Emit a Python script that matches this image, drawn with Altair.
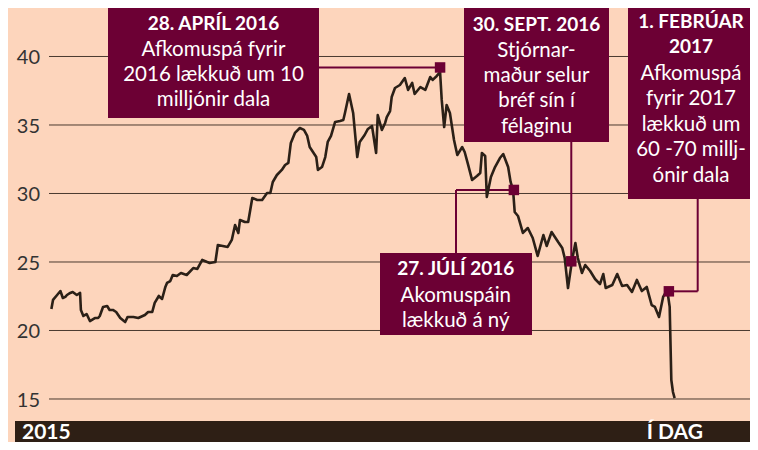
import altair as alt
import pandas as pd

# ---------------- data ----------------
# trading days, as day offsets from 2015-01-01, and share price (USD)
day_offsets = [9, 11, 16, 20, 23, 26, 28, 32, 35, 40,
               44, 45, 48, 52, 56, 62, 66, 68, 72, 77,
               80, 84, 88, 93, 99, 102, 109, 115, 123, 127,
               132, 135, 140, 144, 148, 150, 154, 157, 162, 167,
               174, 182, 187, 193, 199, 202, 209, 212, 218, 224,
               229, 233, 237, 239, 245, 249, 254, 260, 266, 272,
               276, 279, 284, 290, 294, 298, 301, 306, 312, 317,
               321, 324, 328, 332, 334, 339, 343, 346, 350, 355,
               361, 365, 367, 372, 377, 382, 385, 391, 395, 400,
               405, 407, 412, 416, 418, 422, 424, 428, 434, 440,
               444, 449, 452, 459, 465, 471, 474, 479, 483, 485,
               488, 491, 495, 500, 504, 510, 513, 517, 522, 528,
               532, 534, 538, 540, 545, 550, 556, 560, 566, 569,
               572, 574, 578, 584, 590, 596, 602, 609, 613, 619,
               623, 627, 632, 635, 639, 644, 648, 651, 656, 660,
               666, 672, 678, 682, 685, 693, 699, 705, 711, 717,
               723, 729, 735, 741, 745, 750, 755, 760, 763, 765,
               767, 769]
prices = [21.57, 22.23, 22.59, 22.88, 22.37, 22.45, 22.59, 22.74, 22.81, 22.59,
          22.74, 21.50, 21.06, 21.20, 20.69, 20.91, 20.91, 21.06, 21.72, 21.79,
          21.50, 21.50, 21.35, 20.91, 20.62, 20.99, 20.99, 20.91, 21.13, 21.35,
          21.35, 22.01, 22.52, 22.30, 23.18, 23.47, 23.61, 24.05, 23.98, 24.20,
          24.05, 24.56, 24.49, 25.15, 25.00, 24.93, 25.00, 26.24, 26.17, 26.10,
          26.61, 27.70, 27.12, 28.07, 27.92, 27.92, 29.67, 29.53, 29.53, 30.04,
          30.04, 30.84, 31.35, 31.72, 32.08, 32.23, 33.69, 34.42, 34.78, 34.64,
          34.20, 33.39, 33.03, 32.66, 31.72, 31.93, 32.66, 33.76, 34.20, 35.22,
          35.29, 35.37, 35.88, 37.26, 35.88, 32.66, 33.76, 34.27, 34.71, 34.93,
          32.96, 35.73, 34.64, 35.15, 35.58, 36.02, 37.04, 37.70, 37.92, 38.43,
          37.56, 38.07, 37.26, 37.77, 37.56, 38.50, 38.29, 38.58, 38.87, 36.83,
          34.85, 36.46, 35.88, 33.91, 32.81, 33.39, 33.03, 32.15, 30.99, 31.28,
          31.50, 32.96, 32.74, 29.74, 31.20, 31.93, 32.59, 32.88, 31.93, 30.84,
          30.26, 28.65, 28.36, 27.12, 27.48, 26.75, 25.44, 26.97, 26.17, 27.19,
          26.83, 26.46, 26.02, 25.29, 23.10, 25.15, 26.39, 25.29, 24.20, 24.78,
          24.34, 23.76, 23.39, 24.12, 23.10, 23.32, 24.12, 23.25, 23.32, 22.81,
          23.69, 22.88, 23.18, 21.86, 21.72, 20.99, 22.45, 22.96, 21.72, 16.39,
          15.51, 15.07]

y_ticks = [15, 20, 25, 30, 35, 40]

marker_dates = ["2016-04-28", "2016-07-27", "2016-10-05", "2017-02-01"]
marker_values = [39.2, 30.26, 25.05, 22.86]

ann_titles = ["28. APRÍL 2016", "27. JÚLÍ 2016", "30. SEPT. 2016", "1. FEBRÚAR\n2017"]
ann_bodies = ["Afkomuspá fyrir\n2016 lækkuð um 10\nmilljónir dala",
              "Akomuspáin\nlækkuð á ný",
              "Stjórnar-\nmaður selur\nbréf sín í\nfélaginu",
              "Afkomuspá\nfyrir 2017\nlækkuð um\n60 -70 millj-\nónir dala"]

bar_left_label = "2015"
bar_right_label = "Í DAG"

# ---------------- layout / style ----------------
W, H = 742, 434
BASE = pd.Timestamp("2015-01-01")
DAYS_PER_PX = 914.6 / 750
VAL_PER_PX = (43.54 - 11.277) / 442
X0_DAY = -43.9
X1_DAY = X0_DAY + W * DAYS_PER_PX
Y_TOP = 43.54
Y_BOT = Y_TOP - H * VAL_PER_PX

BG = "#fdd5bc"
MAROON = "#6c0034"
DARK = "#2e1f15"
LINE = "#2b2017"
GRID = "#4a3a30"
FONT = "Lato"


def to_dt(day):
    return BASE + pd.Timedelta(days=day)


def day_at(px):
    return X0_DAY + px * DAYS_PER_PX


def val_at(py):
    return Y_TOP - py * VAL_PER_PX


def dt_obj(ts):
    return alt.DateTime(year=ts.year, month=ts.month, date=ts.day,
                        hours=ts.hour, minutes=ts.minute, seconds=ts.second)


xscale = alt.Scale(domain=[dt_obj(to_dt(X0_DAY)), dt_obj(to_dt(X1_DAY))])
yscale = alt.Scale(domain=[Y_BOT, Y_TOP], nice=False, zero=False)

# box geometry in pixels (x, x2, y, y2), title baseline, body baseline
boxes = pd.DataFrame({
    "x":  [100, 372, 456, 620],
    "x2": [311, 524, 601, W + 2],
    "y":  [-2, 245, -2, -2],
    "y2": [110, 327, 134, 191],
    "cx": [205.5, 447.8, 528.5, 683],
    "ty": [21.5, 267, 22.5, 20.3],
    "by": [47.5, 293.7, 48.6, 72],
    "title": ann_titles,
    "body": ann_bodies,
})

price_df = pd.DataFrame({"date": [to_dt(d) for d in day_offsets], "price": prices})
marker_df = pd.DataFrame({"date": pd.to_datetime(marker_dates), "price": marker_values})

# connector segments: start at box edge, end at marker
mA, mD, mB, mC = [marker_df.iloc[i] for i in range(4)]
segs = []
segs.append((to_dt(day_at(311)), mA.date, mA.price, mA.price))
segs.append((to_dt(day_at(448)), to_dt(day_at(448)), val_at(245), mD.price))
segs.append((to_dt(day_at(448)), mD.date, mD.price, mD.price))
segs.append((mB.date, mB.date, val_at(134), mB.price))
segs.append((to_dt(day_at(689.7)), to_dt(day_at(689.7)), val_at(191), mC.price))
segs.append((to_dt(day_at(689.7)), mC.date, mC.price, mC.price))
seg_df = pd.DataFrame(segs, columns=["x", "x2", "y", "y2"])

tick_df = pd.DataFrame({"v": y_ticks, "label": [str(t) for t in y_ticks]})

grid = alt.Chart(tick_df).mark_rule(color=GRID, strokeWidth=1).encode(
    y=alt.Y("v:Q", scale=yscale, axis=None),
    x=alt.value(41), x2=alt.value(W),
)
ylabels = alt.Chart(tick_df).mark_text(
    font=FONT, fontSize=20, color="#333333", align="right", baseline="middle", dy=2
).encode(y=alt.Y("v:Q", scale=yscale, axis=None), x=alt.value(32), text="label:N")

bar_df = pd.DataFrame({"x": [7], "x2": [W + 2], "y": [413], "y2": [H + 2]})
bar = alt.Chart(bar_df).mark_rect(color=DARK).encode(
    x=alt.X("x:Q", scale=None), x2="x2", y=alt.Y("y:Q", scale=None), y2="y2"
)
bar_txt_df = pd.DataFrame({"t": [bar_left_label, bar_right_label], "x": [14, 695]})
bar_left = alt.Chart(bar_txt_df.iloc[[0]]).mark_text(
    font=FONT, fontSize=21, fontWeight="bold", color="white", align="left", baseline="alphabetic"
).encode(x=alt.X("x:Q", scale=None), y=alt.value(431), text="t:N")
bar_right = alt.Chart(bar_txt_df.iloc[[1]]).mark_text(
    font=FONT, fontSize=21, fontWeight="bold", color="white", align="right", baseline="alphabetic"
).encode(x=alt.X("x:Q", scale=None), y=alt.value(431), text="t:N")

connectors = alt.Chart(seg_df).mark_rule(color=MAROON, strokeWidth=2).encode(
    x=alt.X("x:T", scale=xscale, axis=None), x2="x2:T",
    y=alt.Y("y:Q", scale=yscale, axis=None), y2="y2:Q",
)

line = alt.Chart(price_df).mark_line(color=LINE, strokeWidth=2.6, strokeJoin="round").encode(
    x=alt.X("date:T", scale=xscale, axis=None),
    y=alt.Y("price:Q", scale=yscale, axis=None),
)

markers = alt.Chart(marker_df).mark_square(color=MAROON, size=110, opacity=1).encode(
    x=alt.X("date:T", scale=xscale, axis=None),
    y=alt.Y("price:Q", scale=yscale, axis=None),
)

box_rects = alt.Chart(boxes).mark_rect(color=MAROON).encode(
    x=alt.X("x:Q", scale=None), x2="x2", y=alt.Y("y:Q", scale=None), y2="y2"
)
box_titles = alt.Chart(boxes).mark_text(
    font=FONT, fontSize=19, fontWeight="bold", color="white", align="center",
    baseline="alphabetic", lineBreak="\n", lineHeight=25
).encode(x=alt.X("cx:Q", scale=None), y=alt.Y("ty:Q", scale=None), text="title:N")
box_bodies = alt.Chart(boxes).mark_text(
    font=FONT, fontSize=20.5, color="white", align="center",
    baseline="alphabetic", lineBreak="\n", lineHeight=25.4
).encode(x=alt.X("cx:Q", scale=None), y=alt.Y("by:Q", scale=None), text="body:N")

chart = alt.layer(
    grid, ylabels, bar, bar_left, bar_right, connectors, line, markers,
    box_rects, box_titles, box_bodies
).properties(
    width=W, height=H, autosize=alt.AutoSizeParams(type="none"), padding=0,
    background=BG,
).configure_view(strokeWidth=0, fill=None)

chart.save("out.html", embed_options={"renderer": "svg", "actions": False})
